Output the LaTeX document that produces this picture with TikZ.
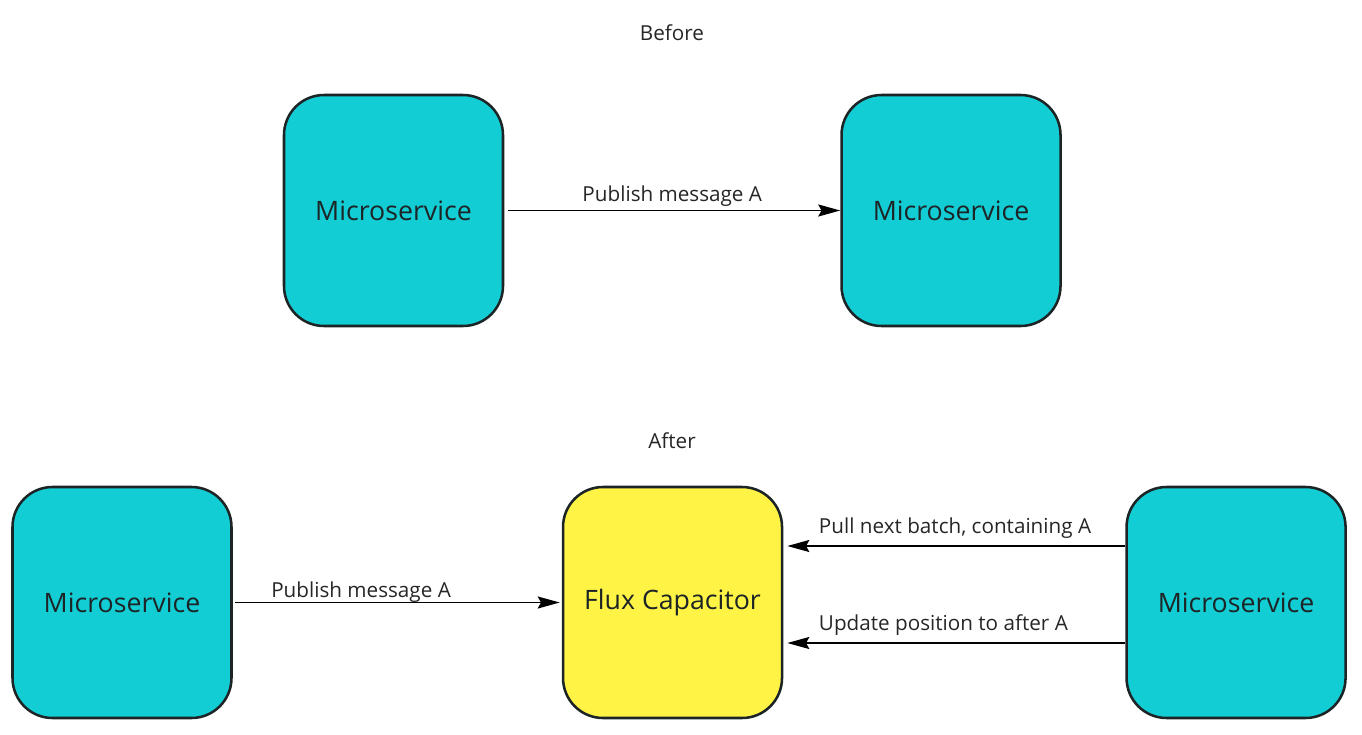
\documentclass[tikz,border=0pt]{standalone}
\usepackage{fontspec}
\setmainfont{Open Sans}
\usepackage{xcolor}
\usetikzlibrary{arrows.meta,positioning}

\definecolor{servicecyan}{HTML}{13CDD4}
\definecolor{fluxyellow}{HTML}{FFF345}
\definecolor{edgedark}{HTML}{1C2426}

\begin{document}
\begin{tikzpicture}[
        node distance=2cm,
        service/.style={rectangle, draw=edgedark, fill=servicecyan, minimum width=5.475cm, minimum height=5.775cm, rounded corners=1cm, line width=1.8pt, font=\fontsize{19}{23}\selectfont, text=edgedark},
        flux/.style={service, fill=fluxyellow},
        heading/.style={font=\fontsize{14.7}{17}\selectfont, text=black!85},
        msg/.style={draw, -{Stealth[length=0.55cm, width=0.3cm, inset=0.08cm]}, line width=1.25pt},
        msglabel/.style={font=\fontsize{14.7}{17}\selectfont, text=black!85, inner sep=2pt}
    ]
    \useasboundingbox (0,0) rectangle (34.05,-18.35);

    % Before
    \node [heading] (before) at (16.8,-0.825) {Before};
    \node [service] (pubold) at (9.8375,-5.2625) {Microservice};
    \node [service, right=8.4cm of pubold] (subold) {Microservice};

    % After
    \node [heading] (after) at (16.8,-11.025) {After};
    \node [service] (pubnew) at (3.05,-15.0625) {Microservice};
    \node [flux, right=8.225cm of pubnew] (capacitor) {Flux Capacitor};
    \node [service, right=8.55cm of capacitor] (subnew) {Microservice};

    % Connections - before
    \path [msg, shorten <=0.1cm] (pubold) -- (subold)
        node [msglabel, midway, above=0.0cm] {Publish message A};

    % Connections - after
    \path [msg, shorten <=0.05cm, shorten >=0.05cm] (pubnew) -- (capacitor)
        node [msglabel, pos=0.39, above=-0.08cm] {Publish message A};
    \path [msg, shorten >=0.1cm] ([yshift=1.4125cm]subnew.west) -- ([yshift=1.4125cm]capacitor.east)
        node [msglabel, pos=1, anchor=south west, xshift=0.8cm, yshift=0.1cm] {Pull next batch, containing A};
    \path [msg, shorten >=0.1cm] ([yshift=-1.0125cm]subnew.west) -- ([yshift=-1.0125cm]capacitor.east)
        node [msglabel, pos=1, anchor=south west, xshift=0.8cm, yshift=0.1cm] {Update position to after A};

\end{tikzpicture}
\end{document}
